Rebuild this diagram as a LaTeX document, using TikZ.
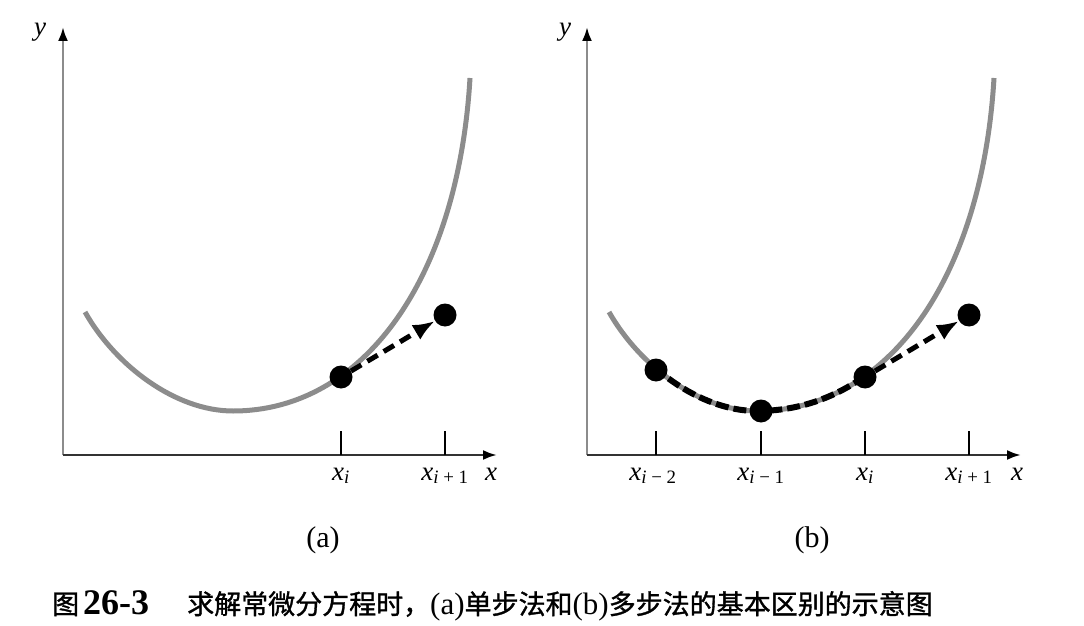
\documentclass[tikz,border=0pt]{standalone}
\usepackage{fontspec}
\setmainfont{Liberation Serif}
\newfontfamily\cjk[FakeBold=1.2]{Noto Sans CJK SC}
\usetikzlibrary{arrows.meta}

\tikzset{
	axisline/.style={line width=2.5pt, draw=black!80, -{Latex[length=14pt,width=10pt,black]}},
	yaxisline/.style={line width=2.5pt, draw=black!45, -{Latex[length=14pt,width=10pt,black]}},
	curve/.style={line width=5pt, draw=black!45},
	stepcurve/.style={line width=6pt, draw=black, dash pattern=on 13pt off 5pt},
	tickmark/.style={line width=1.6pt, draw=black},
	dot/.style={circle, fill=black, minimum size=23pt, inner sep=0pt},
	steparrow/.style={line width=5pt, dash pattern=on 12pt off 7pt, -{Latex[length=22pt,width=17pt]}},
	lbl/.style={inner sep=0pt, font=\fontsize{27}{30}\selectfont},
	pics/odecurve/.style={code={
		\draw[#1] (22,143) .. controls (52,90) and (112,44) .. (170,44)
			.. controls (300,44) and (395,175) .. (407,377);
	}},
}
\newcommand\lat[1]{{\fontsize{31}{32}\selectfont #1}}

\begin{document}
\begin{tikzpicture}[x=1pt,y=1pt]
	\useasboundingbox (0,0) rectangle (1084,625);
	
	% (a) one step
	\begin{scope}[shift={(63,170)}]
		\draw[yaxisline] (0,0) -- (0,428);
		\draw[axisline] (0,0) -- (434,0);
		\node[lbl] (ya) at (-23,423) {\textit{y}};
		\node[lbl, anchor=base] (xa) at (428,-25) {\textit{x}};
		\pic {odecurve=curve};
		\draw[tickmark] (278,0) -- (278,24);
		\draw[tickmark] (382,0) -- (382,24);
		\node[lbl, anchor=base] (ta1) at (278,-25) {\textit{x}\textsubscript{\textit{i}}};
		\node[lbl, anchor=base] (ta2) at (382,-25) {\textit{x}\textsubscript{\textit{i} + 1}};
		\node[dot] (pa1) at (278,78) {};
		\node[dot] (pa2) at (382,140) {};
		\draw[steparrow] (pa1) -- (pa2);
	\end{scope}
	
	% (b) multistep
	\begin{scope}[shift={(587,170)}]
		\draw[yaxisline] (0,0) -- (0,428);
		\draw[axisline] (0,0) -- (434,0);
		\node[lbl] (yb) at (-22,423) {\textit{y}};
		\node[lbl, anchor=base] (xb) at (430,-25) {\textit{x}};
		\pic {odecurve=curve};
		\begin{scope}
			\clip (69,20) rectangle (278,110);
			\pic {odecurve=stepcurve};
		\end{scope}
		\foreach \u in {69,174,278,382} {
			\draw[tickmark] (\u,0) -- (\u,24);
		}
		\node[lbl, anchor=base] (tb1) at (66,-25) {\textit{x}\textsubscript{\textit{i} − 2}};
		\node[lbl, anchor=base] (tb2) at (174,-25) {\textit{x}\textsubscript{\textit{i} − 1}};
		\node[lbl, anchor=base] (tb3) at (278,-25) {\textit{x}\textsubscript{\textit{i}}};
		\node[lbl, anchor=base] (tb4) at (382,-25) {\textit{x}\textsubscript{\textit{i} + 1}};
		\node[dot] (pb1) at (69,85) {};
		\node[dot] (pb2) at (174,44) {};
		\node[dot] (pb3) at (278,78) {};
		\node[dot] (pb4) at (382,140) {};
		\draw[steparrow] (pb3) -- (pb4);
	\end{scope}
	
	% panel labels and caption
	\node[lbl, font=\fontsize{30}{32}\selectfont] (capa) at (323,85) {(a)};
	\node[lbl, font=\fontsize{30}{32}\selectfont] (capb) at (812,85) {(b)};
	\node[inner sep=0pt, anchor=base west, font=\fontsize{27}{32}\selectfont] (fig) at (52,11) {{\cjk 图}\hspace{4pt}{\fontsize{36}{36}\selectfont\bfseries 26-3}};
	\node[inner sep=0pt, anchor=base west, font=\fontsize{27}{32}\selectfont] (cap) at (187,11) {{\cjk 求解常微分方程时，}\lat{(a)}{\cjk 单步法和}\lat{(b)}{\cjk 多步法的基本区别的示意图}};
\end{tikzpicture}
\end{document}
